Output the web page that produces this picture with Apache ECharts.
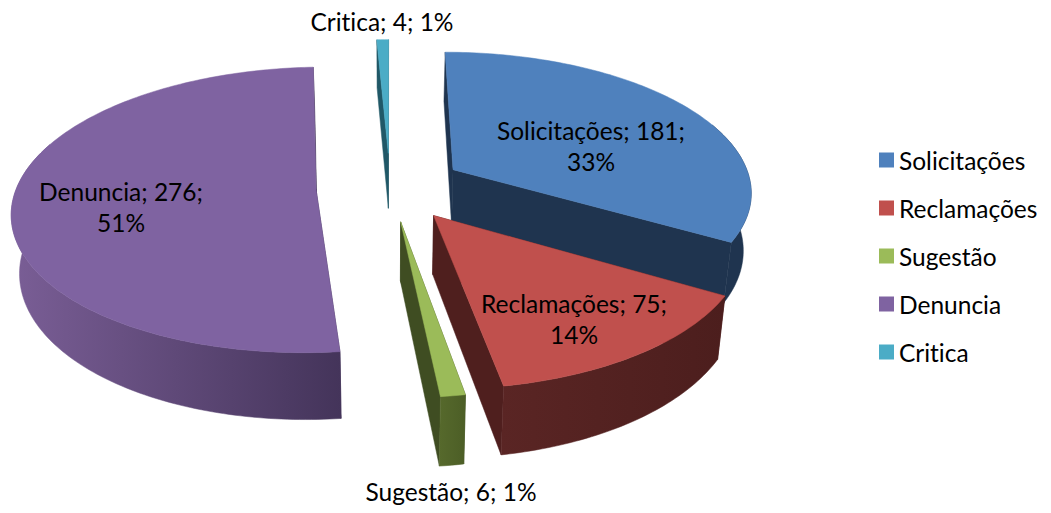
<!DOCTYPE html>
<html>
<head>
<meta charset="utf-8">
<style>html,body{margin:0;padding:0;background:#fff}#c{width:1051px;height:513px}
#c text{font-variant-ligatures:none !important;font-feature-settings:"liga" 0 !important}</style>
<script src="https://cdn.jsdelivr.net/npm/echarts@6/dist/echarts.min.js"></script>
</head>
<body>
<div id="c"></div>
<script>
// ---- data ----
const categories = ['Solicitações', 'Reclamações', 'Sugestão', 'Denuncia', 'Critica'];
const values = [181, 75, 6, 276, 4];
const topColors = ['#4f81bd', '#c0504d', '#9bbb59', '#7f63a1', '#4bacc6'];
const cutColors = ['#1f344f', '#4f1f1e', '#3f4d22', '#3d2f52', '#205867'];
const wallColors = [['#1f344f', '#1f344f'], ['#5a2524', '#4c1e1d'], ['#56692c', '#4c5e26'], ['#7a5e96', '#44345a'], ['#205867', '#205867']];
const labelBreak = [true, true, false, true, false];

// ---- layout of the simulated 3D projection ----
const VIEW = { cx: 390, cy: 186.5, radius: 299, squash: 0.465, persp: 0.145, depth: 57, shrink: 0.022, explode: 74 };
const LABEL_POS = [[591, 146], [574, 319], [451, 491], [121, 207], [382, 21]];
const DRAW_ORDER = [4, 0, 3, 1, 2];
const FONT = '24.5px Lato';

const total = values.reduce((a, b) => a + b, 0);
const starts = [];
values.reduce((acc, v, i) => { starts[i] = acc; return acc + v; }, 0);
const toAngle = v => v / total * 2 * Math.PI;

function project(x, y, z) {
  const f = 1 / (1 - VIEW.persp * y / VIEW.radius);
  return [VIEW.cx + x * f * (1 - VIEW.shrink * z), VIEW.cy + (VIEW.squash * y + z * VIEW.depth) * f];
}

function renderSlice(i, value) {
  const a0 = toAngle(starts[i]);
  const a1 = a0 + toAngle(value);
  const mid = (a0 + a1) / 2;
  const ox = VIEW.explode * Math.sin(mid);
  const oy = -VIEW.explode * Math.cos(mid);
  const steps = Math.max(2, Math.ceil((a1 - a0) / (Math.PI / 180)));
  const rim = z => {
    const pts = [];
    for (let s = 0; s <= steps; s++) {
      const t = a0 + (a1 - a0) * s / steps;
      pts.push(project(ox + VIEW.radius * Math.sin(t), oy - VIEW.radius * Math.cos(t), z));
    }
    return pts;
  };
  const apex = z => project(ox, oy, z);
  const topRim = rim(0), botRim = rim(1);
  const poly = (points, fill) => ({ type: 'polygon', shape: { points }, style: { fill, stroke: fill, lineWidth: 0.5 } });
  const wallFill = {
    type: 'linear', x: 0, y: 0, x2: 1, y2: 0,
    colorStops: [{ offset: 0, color: wallColors[i][0] }, { offset: 1, color: wallColors[i][1] }]
  };
  // outer wall: only the part that faces the viewer
  const frontIdx = [];
  for (let s = 0; s <= steps; s++) {
    const t = a0 + (a1 - a0) * s / steps;
    if (-Math.cos(t) > -0.35) frontIdx.push(s);
  }
  const wallTop = frontIdx.map(s => topRim[s]);
  const wallBot = frontIdx.map(s => botRim[s]).reverse();
  const children = [
    poly([apex(0), topRim[0], botRim[0], apex(1)], cutColors[i]),
    poly([apex(0), topRim[steps], botRim[steps], apex(1)], cutColors[i])
  ];
  if (wallTop.length > 1) children.push(poly(wallTop.concat(wallBot), wallFill));
  children.push(poly([apex(0)].concat(topRim), topColors[i]));
  return { type: 'group', children };
}

const sliceSeries = categories.map((name, i) => ({
  type: 'custom',
  name,
  coordinateSystem: 'none',
  z: 2 + DRAW_ORDER.indexOf(i),
  itemStyle: { color: topColors[i] },
  data: [[values[i]]],
  silent: true,
  renderItem: (params, api) => renderSlice(i, api.value(0))
}));

const labelSeries = {
  type: 'custom',
  name: 'labels',
  coordinateSystem: 'none',
  z: 20,
  silent: true,
  data: values.map(v => [v]),
  renderItem: (params, api) => {
    const i = params.dataIndex;
    const v = api.value(0);
    const pct = Math.round(v / total * 100);
    const text = categories[i] + '; ' + v + ';' + (labelBreak[i] ? '\n' : ' ') + pct + '%';
    return {
      type: 'text',
      style: {
        text, x: LABEL_POS[i][0], y: LABEL_POS[i][1],
        font: FONT, fill: '#000', align: 'center', verticalAlign: 'middle', lineHeight: 31
      }
    };
  }
};

const chart = echarts.init(document.getElementById('c'), null, { renderer: 'svg' });
chart.setOption({
  animation: false,
  backgroundColor: '#fff',
  tooltip: { show: false },
  legend: {
    data: categories,
    orient: 'vertical',
    left: 879,
    top: 147.5,
    padding: 0,
    itemWidth: 15,
    itemHeight: 15,
    itemGap: 23,
    icon: 'rect',
    selectedMode: false,
    textStyle: { fontFamily: 'Lato', fontSize: 24.5, color: '#000' }
  },
  series: sliceSeries.concat([labelSeries])
});
</script>
</body>
</html>
